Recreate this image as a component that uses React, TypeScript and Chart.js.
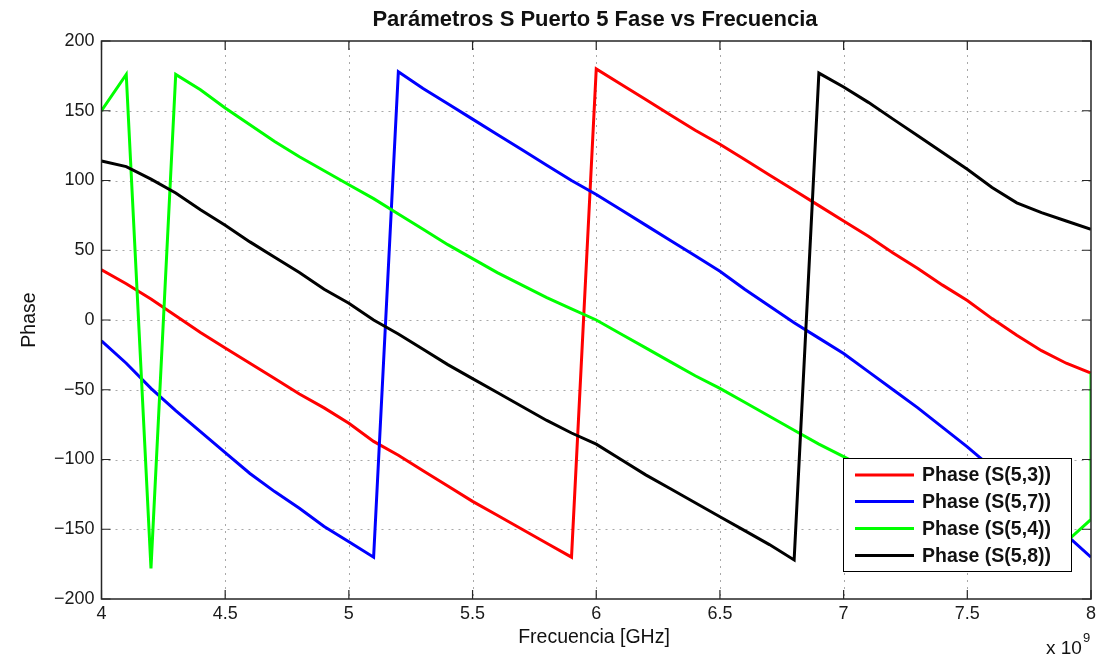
import React, { useEffect, useRef } from "react";
import { Chart, registerables } from "chart.js";

Chart.register(...registerables);

const chartTitle = "Parámetros S Puerto 5 Fase vs Frecuencia";
const xAxisLabel = "Frecuencia [GHz]";
const yAxisLabel = "Phase";

const freqGHz = [
  4.0, 4.1, 4.2, 4.3, 4.4, 4.5, 4.6, 4.7, 4.8, 4.9,
  5.0, 5.1, 5.2, 5.3, 5.4, 5.5, 5.6, 5.7, 5.8, 5.9,
  6.0, 6.1, 6.2, 6.3, 6.4, 6.5, 6.6, 6.7, 6.8, 6.9,
  7.0, 7.1, 7.2, 7.3, 7.4, 7.5, 7.6, 7.7, 7.8, 7.9, 8.0,
];

const phaseS53 = [
  36, 26, 15, 3, -9, -20, -31, -42, -53, -63,
  -74, -87, -97, -108, -119, -130, -140, -150, -160, -170,
  180, 169, 158, 147, 136, 126, 115, 104, 93, 82,
  71, 60, 48, 37, 25, 14, 1, -11, -22, -31, -38,
];

const phaseS57 = [
  -15, -31, -49, -65, -80, -95, -110, -123, -135, -148,
  -159, -170, 178, 166, 155, 144, 133, 122, 111, 100,
  90, 79, 68, 57, 46, 35, 22, 10, -2, -13,
  -24, -37, -50, -63, -77, -91, -106, -122, -138, -154, -170,
];

const freqS54 = [...freqGHz, 8.0];
const phaseS54 = [
  150, 176, -178, 176, 165, 152, 140, 128, 117, 107,
  97, 87, 76, 65, 54, 44, 34, 25, 16, 8,
  0, -10, -20, -30, -40, -49, -59, -69, -79, -89,
  -98, -107, -116, -124, -132, -139, -146, -152, -157, -159, -143, -38,
];

const phaseS58 = [
  114, 110, 101, 91, 79, 68, 56, 45, 34, 22,
  12, 0, -10, -21, -32, -42, -52, -62, -72, -81,
  -89, -100, -111, -121, -131, -141, -151, -161, -172, 177,
  167, 156, 144, 132, 120, 108, 95, 84, 77, 71, 65,
];

const seriesLabels = ["Phase (S(5,3))", "Phase (S(5,7))", "Phase (S(5,4))", "Phase (S(5,8))"];
const seriesColors = ["#ff0000", "#0000ff", "#00ff00", "#000000"];

const xTicks = [4, 4.5, 5, 5.5, 6, 6.5, 7, 7.5, 8];
const xTickLabels = ["4", "4.5", "5", "5.5", "6", "6.5", "7", "7.5", "8"];
const yTicks = [-200, -150, -100, -50, 0, 50, 100, 150, 200];
const yTickLabels = ["\u2212200", "\u2212150", "\u2212100", "\u221250", "0", "50", "100", "150", "200"];

const FONT = "'Liberation Sans', Arial, Helvetica, sans-serif";

const decorPlugin = {
  id: "matlabDecor",
  beforeDatasetsDraw(chart: any) {
    const { ctx, chartArea: a, scales } = chart;
    ctx.save();
    ctx.strokeStyle = "#a8a8a8";
    ctx.lineWidth = 1;
    ctx.setLineDash([2, 5]);
    xTicks.forEach((v) => {
      const px = Math.round(scales.x.getPixelForValue(v)) + 0.5;
      if (px <= a.left + 2 || px >= a.right - 2) return;
      ctx.beginPath();
      ctx.moveTo(px, a.top);
      ctx.lineTo(px, a.bottom);
      ctx.stroke();
    });
    yTicks.forEach((v) => {
      const py = Math.round(scales.y.getPixelForValue(v)) + 0.5;
      if (py <= a.top + 2 || py >= a.bottom - 2) return;
      ctx.beginPath();
      ctx.moveTo(a.left, py);
      ctx.lineTo(a.right, py);
      ctx.stroke();
    });
    ctx.restore();
  },
  afterDatasetsDraw(chart: any) {
    const { ctx, chartArea: a, scales } = chart;
    ctx.save();
    ctx.strokeStyle = "#262626";
    ctx.lineWidth = 1.5;
    ctx.setLineDash([]);
    ctx.strokeRect(a.left, a.top, a.right - a.left, a.bottom - a.top);
    const tl = 9;
    ctx.lineWidth = 1.2;
    xTicks.forEach((v) => {
      const px = scales.x.getPixelForValue(v);
      ctx.beginPath();
      ctx.moveTo(px, a.bottom);
      ctx.lineTo(px, a.bottom - tl);
      ctx.moveTo(px, a.top);
      ctx.lineTo(px, a.top + tl);
      ctx.stroke();
    });
    yTicks.forEach((v) => {
      const py = scales.y.getPixelForValue(v);
      ctx.beginPath();
      ctx.moveTo(a.left, py);
      ctx.lineTo(a.left + tl, py);
      ctx.moveTo(a.right, py);
      ctx.lineTo(a.right - tl, py);
      ctx.stroke();
    });

    // legend
    const lx = 843, ly = 458, lw = 228, lh = 113;
    ctx.fillStyle = "#ffffff";
    ctx.fillRect(lx, ly, lw, lh);
    ctx.strokeStyle = "#000000";
    ctx.lineWidth = 1;
    ctx.strokeRect(lx + 0.5, ly + 0.5, lw, lh);
    const rows = [475, 501.5, 528.5, 555.5];
    ctx.font = `bold 19.5px ${FONT}`;
    ctx.textBaseline = "middle";
    ctx.textAlign = "left";
    seriesLabels.forEach((lab, i) => {
      ctx.strokeStyle = seriesColors[i];
      ctx.lineWidth = 3;
      ctx.beginPath();
      ctx.moveTo(855, rows[i]);
      ctx.lineTo(914, rows[i]);
      ctx.stroke();
      ctx.fillStyle = "#111111";
      ctx.fillText(lab, 922, rows[i] + 1);
    });
    ctx.restore();
  },
  afterDraw(chart: any) {
    const { ctx } = chart;
    ctx.save();
    ctx.fillStyle = "#111111";
    ctx.textAlign = "center";
    ctx.textBaseline = "middle";
    ctx.font = `bold 22px ${FONT}`;
    ctx.fillText(chartTitle, 595, 20);
    ctx.font = `19.5px ${FONT}`;
    ctx.fillText(xAxisLabel, 594, 638);
    ctx.save();
    ctx.translate(30, 320);
    ctx.rotate(-Math.PI / 2);
    ctx.fillText(yAxisLabel, 0, 0);
    ctx.restore();
    ctx.textAlign = "left";
    ctx.font = `19px ${FONT}`;
    ctx.fillText("x 10", 1046, 649);
    ctx.font = `13px ${FONT}`;
    ctx.fillText("9", 1083, 638);
    ctx.restore();
  },
};

export default function App() {
  const canvasRef = useRef<HTMLCanvasElement | null>(null);

  useEffect(() => {
    const canvas = canvasRef.current;
    if (!canvas) return;
    const mk = (xs: number[], ys: number[]) => xs.map((x, i) => ({ x, y: ys[i] }));
    const seriesData = [
      mk(freqGHz, phaseS53),
      mk(freqGHz, phaseS57),
      mk(freqS54, phaseS54),
      mk(freqGHz, phaseS58),
    ];
    const chart = new Chart(canvas, {
      type: "line",
      data: {
        datasets: seriesData.map((d, i) => ({
          label: seriesLabels[i],
          data: d,
          borderColor: seriesColors[i],
          backgroundColor: seriesColors[i],
          borderWidth: 3,
          pointRadius: 0,
          tension: 0,
          fill: false,
          order: 3 - i,
        })),
      },
      options: {
        animation: false,
        responsive: false,
        events: [],
        layout: { padding: { left: 0, right: 5, top: 41, bottom: 0 } },
        plugins: {
          legend: { display: false },
          title: { display: false },
          tooltip: { enabled: false },
        },
        scales: {
          x: {
            type: "linear",
            min: 4,
            max: 8,
            grid: { display: false, drawTicks: false },
            border: { display: false },
            afterBuildTicks: (s: any) => {
              s.ticks = xTicks.map((v) => ({ value: v }));
            },
            afterFit: (s: any) => {
              s.height = 58;
            },
            ticks: {
              padding: 4,
              color: "#1a1a1a",
              font: { family: FONT, size: 18 },
              maxRotation: 0,
              autoSkip: false,
              callback: (v: any) => {
                const i = xTicks.indexOf(Number(v));
                return i >= 0 ? xTickLabels[i] : "";
              },
            },
          },
          y: {
            type: "linear",
            min: -200,
            max: 200,
            grid: { display: false, drawTicks: false },
            border: { display: false },
            afterBuildTicks: (s: any) => {
              s.ticks = yTicks.map((v) => ({ value: v }));
            },
            afterFit: (s: any) => {
              s.width = 101.5;
            },
            ticks: {
              padding: 7,
              color: "#1a1a1a",
              font: { family: FONT, size: 18 },
              autoSkip: false,
              callback: (v: any) => {
                const i = yTicks.indexOf(Number(v));
                return i >= 0 ? yTickLabels[i] : "";
              },
            },
          },
        },
      },
      plugins: [decorPlugin],
    });
    return () => chart.destroy();
  }, []);

  return (
    <div style={{ position: "fixed", left: 0, top: 0, width: 1100, height: 657, background: "#ffffff" }}>
      <canvas ref={canvasRef} width={1100} height={657} style={{ display: "block", width: 1100, height: 657 }} />
    </div>
  );
}
